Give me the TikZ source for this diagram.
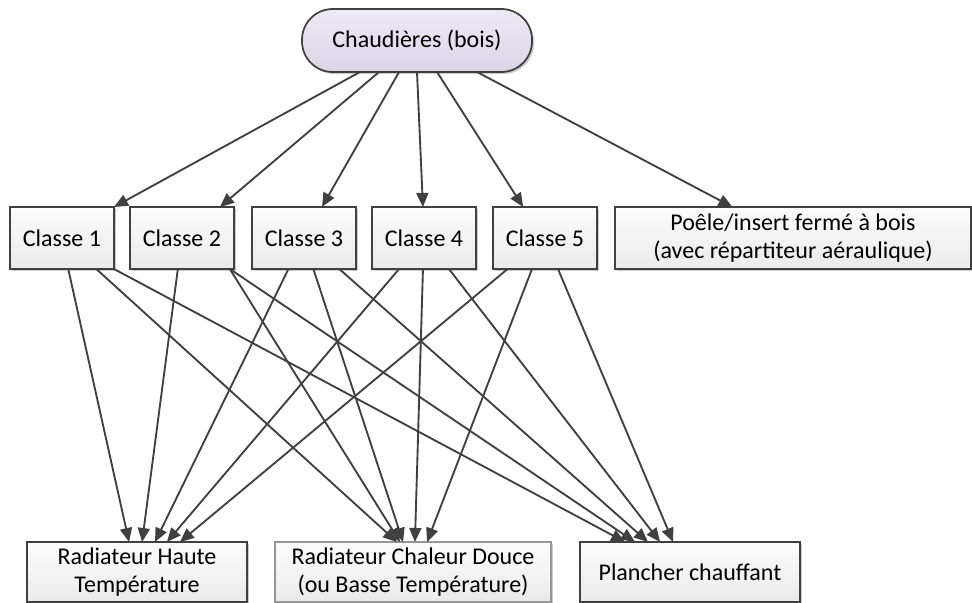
\documentclass[tikz,border=0pt]{standalone}
\usepackage{fontspec}
\setmainfont{Carlito}
\usepackage{tikz}
\usetikzlibrary{arrows.meta,calc,shadows}
\definecolor{edgegrey}{RGB}{64,64,64}
\definecolor{lightedge}{RGB}{150,150,150}
\definecolor{boxtop}{RGB}{252,252,252}
\definecolor{boxbottom}{RGB}{234,234,234}
\definecolor{pilltop}{RGB}{238,234,244}
\definecolor{pillbottom}{RGB}{220,212,230}

\begin{document}
\begin{tikzpicture}[
    x=0.75pt, y=-0.75pt,
    classbox/.style={rectangle, draw=edgegrey, line width=1.3pt,
        top color=boxtop, bottom color=boxbottom,
        minimum width=78pt, minimum height=46.5pt, inner sep=2pt, outer sep=0pt,
        align=center, font=\fontsize{18}{21}\selectfont,
        drop shadow={shadow xshift=1.5pt, shadow yshift=-1.5pt, opacity=0.35, fill=black!60}},
    pillbox/.style={classbox, rounded corners=23pt, top color=pilltop, bottom color=pillbottom,
        minimum width=172.5pt, minimum height=47.25pt},
    conn/.style={draw=edgegrey, line width=1.4pt, -{Triangle[length=10.5pt,width=9pt]}}
]
\useasboundingbox (0,0) rectangle (972,603);

% source
\node[pillbox] (ch) at (417,40.5) {Chaudières (bois)};

% classes
\node[classbox] (c1) at (62,238) {Classe 1};
\node[classbox] (c2) at (182,238) {Classe 2};
\node[classbox] (c3) at (304,238) {Classe 3};
\node[classbox] (c4) at (424,238) {Classe 4};
\node[classbox] (c5) at (545,238) {Classe 5};
\node[classbox, minimum width=267pt] (poele) at (793,238) {Poêle/insert fermé à bois\\(avec répartiteur aéraulique)};

% emitters
\node[classbox, minimum width=165pt, minimum height=45pt] (rh) at (137,572) {Radiateur Haute\\Température};
\node[classbox, minimum width=207pt, minimum height=45pt, draw=lightedge] (rcd) at (413,572) {Radiateur Chaleur Douce\\(ou Basse Température)};
\node[classbox, minimum width=165pt, minimum height=45pt] (pl) at (690,572) {Plancher chauffant};

% chaudieres -> classes
\foreach \fs/\d/\fd in {0.252/c1/1.0, 0.335/c2/0.865, 0.422/c3/0.673,
                        0.5/c4/0.49, 0.587/c5/0.29, 0.761/poele/0.33}
  \draw[conn] ($(ch.south west)!\fs!(ch.south east)$) -- ($(\d.north west)!\fd!(\d.north east)$);

% classes -> emitters
\foreach \s/\fs/\d/\fd in {c1/0.56/rh/0.464, c1/0.83/rcd/0.442, c1/1.0/pl/0.205,
                           c2/0.46/rh/0.523, c2/0.96/rcd/0.453, c2/0.96/pl/0.25,
                           c3/0.35/rh/0.582, c3/0.59/rcd/0.464, c3/0.84/pl/0.309,
                           c4/0.26/rh/0.636, c4/0.49/rcd/0.507, c4/0.74/pl/0.364,
                           c5/0.14/rh/0.695, c5/0.375/rcd/0.551, c5/0.625/pl/0.423}
  \draw[conn] ($(\s.south west)!\fs!(\s.south east)$) -- ($(\d.north west)!\fd!(\d.north east)$);
\end{tikzpicture}
\end{document}
